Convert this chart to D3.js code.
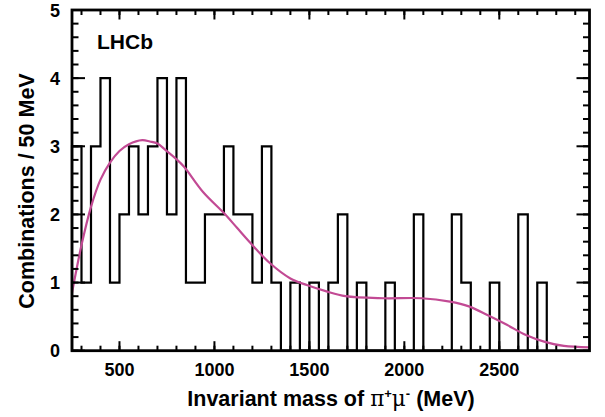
<!DOCTYPE html>
<html>
<head>
<meta charset="utf-8">
<script src="https://cdn.jsdelivr.net/npm/d3@7"></script>
<style>
  html, body { margin: 0; padding: 0; background: #fff; }
  svg { display: block; font-family: "Liberation Sans", Arial, Helvetica, sans-serif; }
  .tick-label { font-size: 18px; font-weight: bold; fill: #000; }
  .title { font-size: 21.5px; font-weight: bold; fill: #000; }
</style>
</head>
<body>
<svg id="chart" width="605" height="417"></svg>
<script>
// ── data ──
const binStart = 250;
const binWidth = 50;
// combinations per 50 MeV bin, starting at 250 MeV
const counts = [3, 1, 3, 4, 1, 2, 3, 2, 3, 4, 2, 4, 1, 1, 2, 2, 3, 2, 2, 1,
                3, 1, 0, 1, 0, 1, 0, 1, 2, 0, 1, 0, 0, 1, 0, 0, 2, 0, 0, 0,
                2, 1, 0, 0, 1, 0, 0, 2, 0, 1];

// fitted curve
const fitMass = [250, 270, 300, 350, 400, 450, 500, 550, 620, 660, 700, 740, 800, 840,
                 940, 1050, 1120, 1190, 1290, 1400, 1490, 1590, 1690, 1890, 2090, 2240,
                 2340, 2440, 2540, 2640, 2740, 2840, 2975];
const fitValue = [0.85, 1.14, 1.55, 2.11, 2.51, 2.76, 2.93, 3.03, 3.09, 3.07, 3.04, 2.95, 2.81, 2.70,
                  2.33, 2.02, 1.80, 1.58, 1.29, 1.06, 0.96, 0.87, 0.80, 0.77, 0.77, 0.72,
                  0.65, 0.52, 0.38, 0.23, 0.13, 0.07, 0.05];

const xMajor = [500, 1000, 1500, 2000, 2500];
const yMajor = [0, 1, 2, 3, 4, 5];

// ── layout ──
const margin = { top: 10, left: 72, right: 15.5, bottom: 66.3 };
const W = 605, H = 417;
const iw = W - margin.left - margin.right;
const ih = H - margin.top - margin.bottom;

const x = d3.scaleLinear().domain([250, 2975]).range([0, iw]);
const y = d3.scaleLinear().domain([0, 5]).range([ih, 0]);

const svg = d3.select("#chart");
const g = svg.append("g").attr("transform", `translate(${margin.left},${margin.top})`);

// ── histogram outline ──
const pts = [[binStart, 0]];
counts.forEach((c, i) => {
  const lo = binStart + i * binWidth;
  pts.push([lo, c], [lo + binWidth, c]);
});
pts.push([binStart + counts.length * binWidth, 0]);

g.append("path")
  .attr("d", d3.line().x(d => x(d[0])).y(d => y(d[1]))(pts))
  .attr("fill", "none")
  .attr("stroke", "#000")
  .attr("stroke-width", 2.2)
  .attr("stroke-linejoin", "miter");

// ── fit curve ──
g.append("path")
  .datum(fitMass.map((m, i) => [m, fitValue[i]]))
  .attr("d", d3.line().x(d => x(d[0])).y(d => y(d[1])).curve(d3.curveCatmullRom))
  .attr("fill", "none")
  .attr("stroke", "#c24a94")
  .attr("stroke-width", 2.2);

// ── ticks (inside, on all four sides) ──
const xMinor = d3.range(300, 2975, 100);
const yMinor = d3.range(0, 5.001, 0.2);

function xTicks(vals, len) {
  vals.forEach(v => {
    g.append("line").attr("x1", x(v)).attr("x2", x(v)).attr("y1", ih).attr("y2", ih - len)
      .attr("stroke", "#000").attr("stroke-width", 2);
    g.append("line").attr("x1", x(v)).attr("x2", x(v)).attr("y1", 0).attr("y2", len)
      .attr("stroke", "#000").attr("stroke-width", 2);
  });
}
function yTicks(vals, len) {
  vals.forEach(v => {
    g.append("line").attr("x1", 0).attr("x2", len).attr("y1", y(v)).attr("y2", y(v))
      .attr("stroke", "#000").attr("stroke-width", 2);
    g.append("line").attr("x1", iw).attr("x2", iw - len).attr("y1", y(v)).attr("y2", y(v))
      .attr("stroke", "#000").attr("stroke-width", 2);
  });
}
xTicks(xMinor, 5);
xTicks(xMajor, 9.5);
yTicks(yMinor, 6.5);
yTicks(yMajor, 13);

// frame
g.append("rect")
  .attr("width", iw).attr("height", ih)
  .attr("fill", "none").attr("stroke", "#000").attr("stroke-width", 2.8);

// ── labels ──
g.selectAll("text.xl").data(xMajor).join("text")
  .attr("class", "tick-label xl")
  .attr("x", d => x(d))
  .attr("y", ih + 25)
  .attr("text-anchor", "middle")
  .text(d => d);

g.selectAll("text.yl").data(yMajor).join("text")
  .attr("class", "tick-label yl")
  .attr("x", -12)
  .attr("y", d => y(d) + 6.5)
  .attr("text-anchor", "end")
  .text(d => d);

g.append("text")
  .attr("class", "title")
  .attr("x", 25).attr("y", 39)
  .style("font-size", "21px")
  .text("LHCb");

const xt = svg.append("text")
  .attr("class", "title")
  .attr("x", 331).attr("y", 406)
  .attr("text-anchor", "middle");
xt.append("tspan").text("Invariant mass of ");
xt.append("tspan").style("font-weight", "normal").style("font-family", "'DejaVu Serif', serif").text("π");
xt.append("tspan").attr("dy", -8).style("font-size", "13px").text("+");
xt.append("tspan").attr("dy", 8).style("font-weight", "normal").style("font-family", "'DejaVu Serif', serif").text("μ");
xt.append("tspan").attr("dy", -8).style("font-size", "13px").text("-");
xt.append("tspan").attr("dy", 8).text(" (MeV)");

svg.append("text")
  .attr("class", "title")
  .attr("transform", "translate(34,191) rotate(-90)")
  .attr("text-anchor", "middle")
  .text("Combinations / 50 MeV");
</script>
</body>
</html>
